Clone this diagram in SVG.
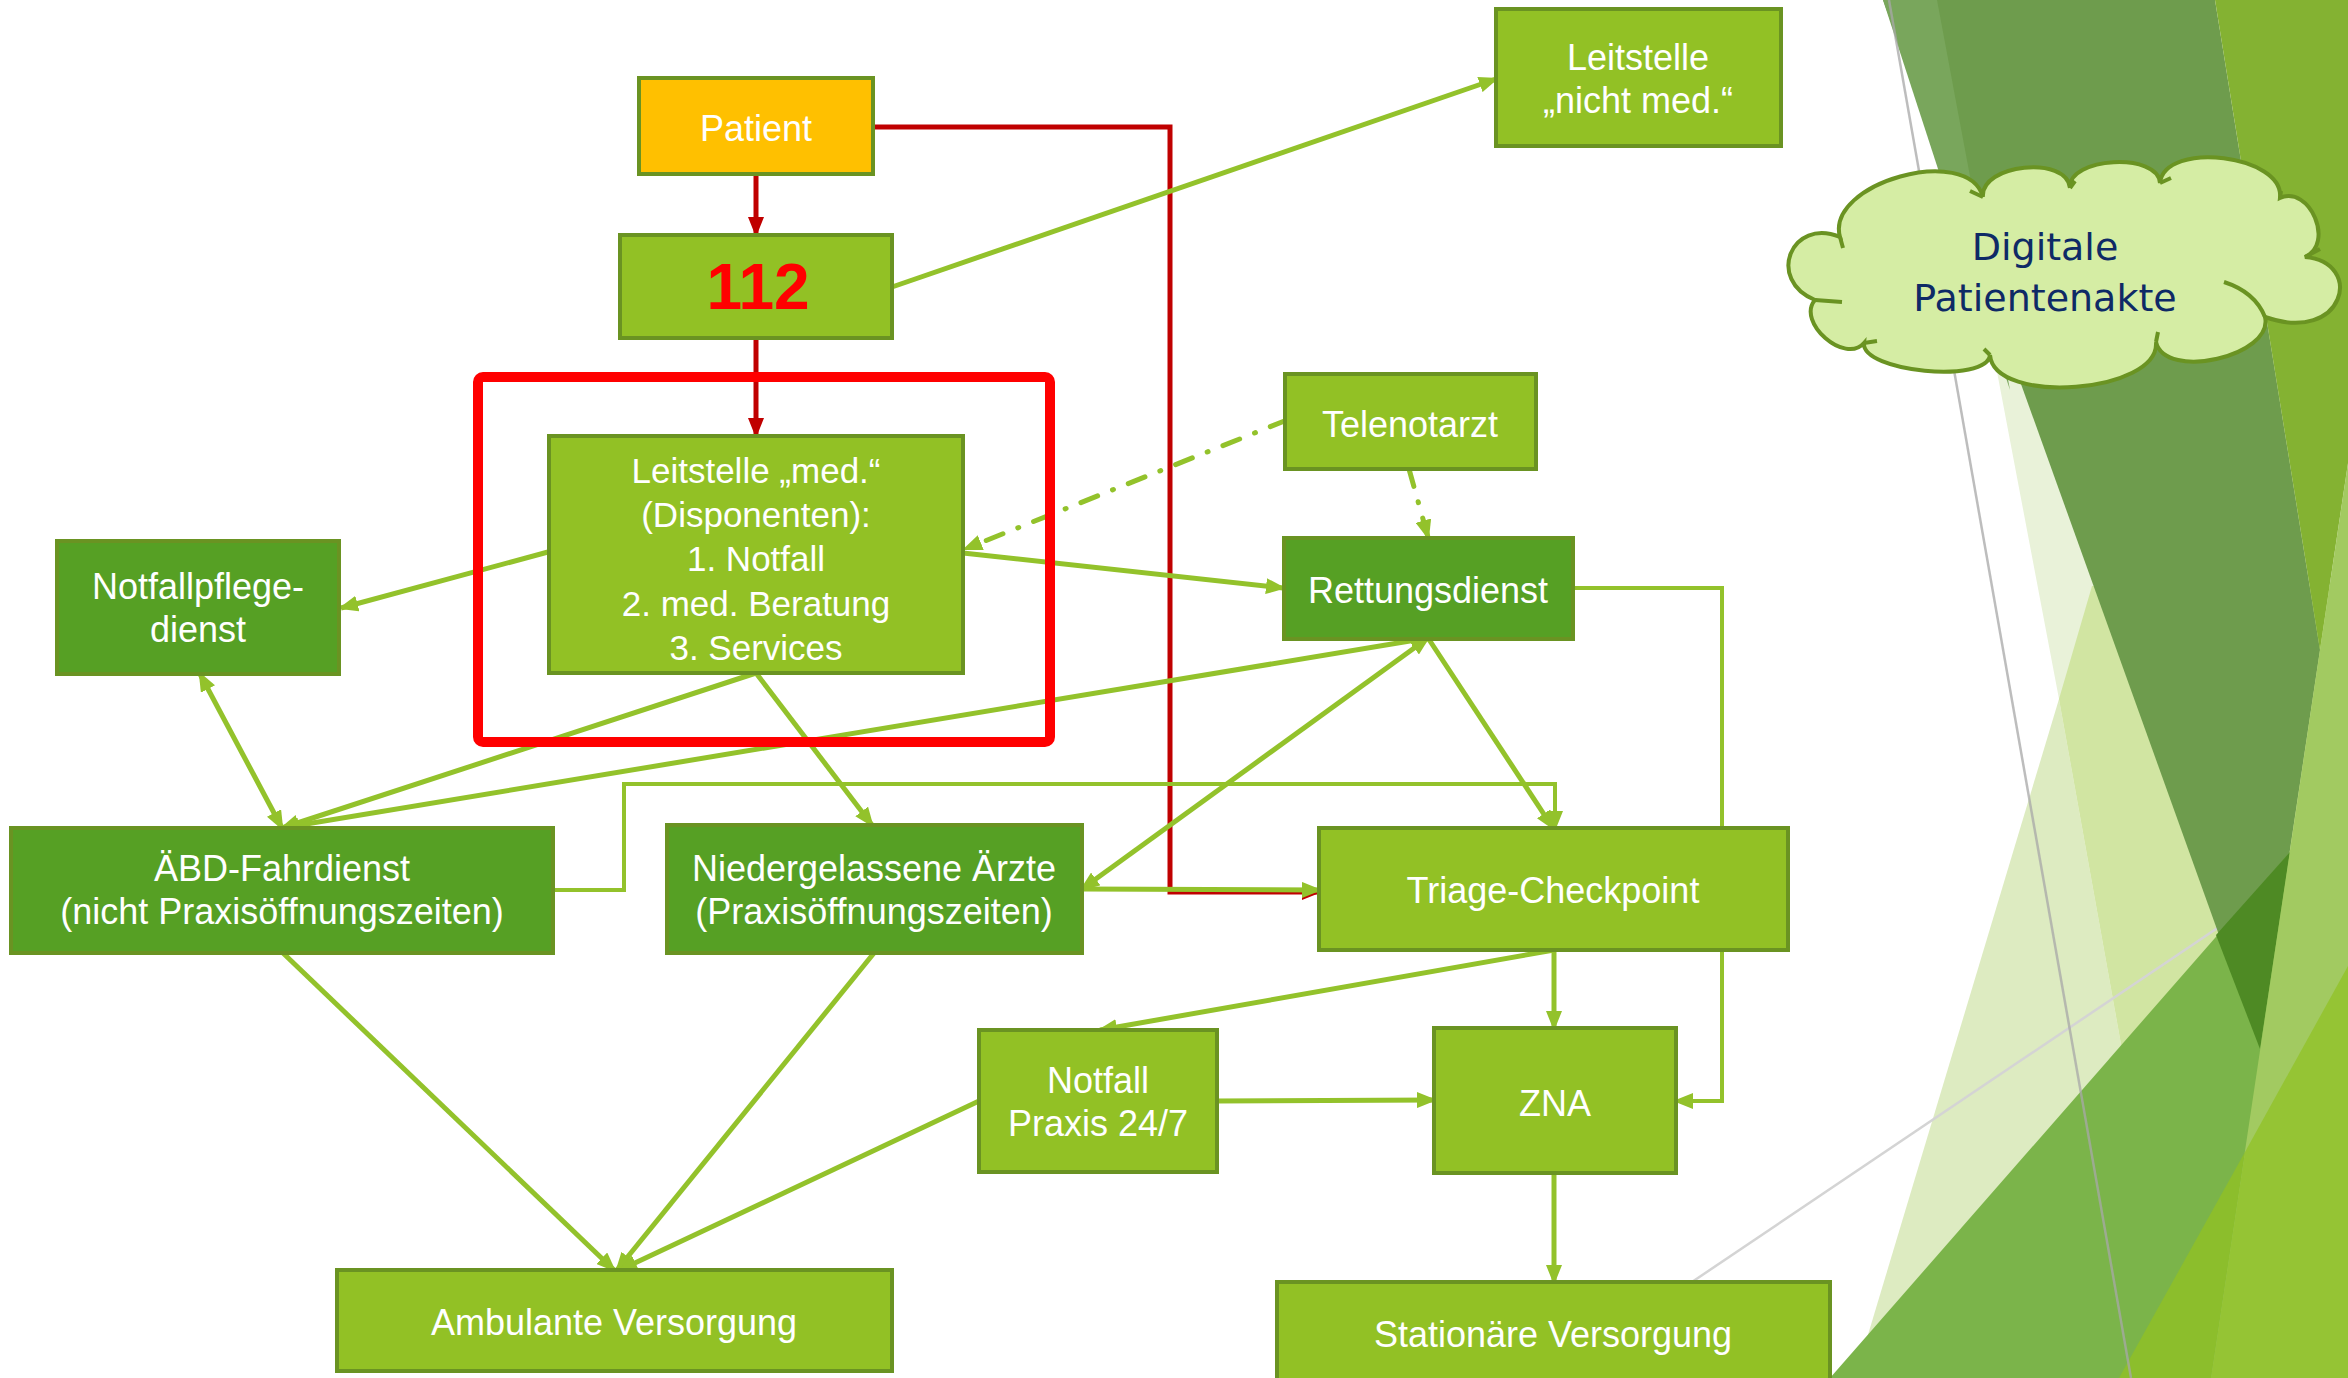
<svg xmlns="http://www.w3.org/2000/svg" width="2348" height="1378" viewBox="0 0 2348 1378">
<defs>
<style>
.nb{stroke:#6A9322;stroke-width:4}
.lg{fill:#92C125}
.dg{fill:#56A024}
.yl{fill:#FFC000}
.t{font-family:"Liberation Sans",Arial,sans-serif;font-size:36px;fill:#FFFFFF;text-anchor:middle}
.c{fill:none;stroke:#93C22B;stroke-width:5}
.c4{fill:none;stroke:#93C22B;stroke-width:4}
.dd{fill:none;stroke:#93C22B;stroke-width:5;stroke-dasharray:18 16 1 16;stroke-linecap:round}
.cr{fill:none;stroke:#C00000;stroke-width:5}
</style>
<marker id="ag" viewBox="0 0 20 16" refX="17" refY="8" markerWidth="20" markerHeight="16" markerUnits="userSpaceOnUse" orient="auto-start-reverse">
<path d="M0,0 L20,8 L0,16 z" fill="#93C22B"/>
</marker>
<marker id="ar" viewBox="0 0 20 16" refX="17" refY="8" markerWidth="20" markerHeight="16" markerUnits="userSpaceOnUse" orient="auto">
<path d="M0,0 L20,8 L0,16 z" fill="#C00000"/>
</marker>
</defs>
<rect x="0" y="0" width="2348" height="1378" fill="#FFFFFF"/>
<g id="background">
<polygon points="1955,150 2059,699 2181,1378 2348,1378 2348,150" fill="#E9F2D9"/>
<polygon points="2059,699 1855,1378 2181,1378" fill="#DDEBC1"/>
<polygon points="2092,586 2059,699 2181,1378 2348,1378 2348,586" fill="#D1E5A2"/>
<line x1="1689" y1="1284" x2="2348" y2="840" stroke="#D4D4D4" stroke-width="2.5"/>
<polygon points="1883,0 2215,0 2320,650 2260,1049" fill="#6E9C4D"/>
<polygon points="1883,0 1937,0 2010,390" fill="#79A65C"/>
<polygon points="2215,0 2348,0 2348,463 2320,650" fill="#84B232"/>
<polygon points="1830,1378 2348,786 2348,1378" fill="#7BB44A"/>
<polygon points="2216,935 2290,852 2260,1049" fill="#4E8A24"/>
<polygon points="2348,463 2211,1378 2348,1378" fill="#A2CA61"/>
<polygon points="2119,1378 2245,1152 2211,1378" fill="#8CBE2C"/>
<polygon points="2245,1152 2348,966 2348,1378 2211,1378" fill="#95C434"/>
<line x1="1889" y1="0" x2="2131" y2="1378" stroke="#A8A8A8" stroke-width="2.5" opacity="0.75"/>
</g>
<g id="connectors">
<path class="cr" d="M873,127 L1170,127 L1170,892 L1319,892" marker-end="url(#ar)"/>
<path class="c" d="M892,287 L1496,79" marker-end="url(#ag)"/>
<path class="c" d="M548,552 L341,608" marker-end="url(#ag)"/>
<path class="c" d="M963,553 L1283,588" marker-end="url(#ag)"/>
<path class="dd" d="M1287,420 L965,549" marker-end="url(#ag)"/>
<path class="dd" d="M1409,469 L1428,537" marker-end="url(#ag)"/>
<path class="c" d="M756,673 L282,828" marker-end="url(#ag)"/>
<path class="c" d="M756,673 L872,825" marker-end="url(#ag)"/>
<path class="c" d="M282,828 L1428,638" marker-start="url(#ag)" marker-end="url(#ag)"/>
<path class="c" d="M1082,889 L1428,638" marker-start="url(#ag)" marker-end="url(#ag)"/>
<path class="c" d="M1428,638 L1553,828" marker-end="url(#ag)"/>
<path class="c" d="M200,674 L282,828" marker-start="url(#ag)" marker-end="url(#ag)"/>
<path class="c4" d="M553,890 L624,890 L624,784 L1555,784 L1555,828" marker-end="url(#ag)"/>
<path class="c" d="M1082,889 L1319,890" marker-end="url(#ag)"/>
<path class="c4" d="M1573,588 L1722,588 L1722,1101 L1676,1101" marker-end="url(#ag)"/>
<path class="c" d="M1554,950 L1554,1028" marker-end="url(#ag)"/>
<path class="c" d="M1554,950 L1100,1030" marker-end="url(#ag)"/>
<path class="c" d="M1217,1101 L1434,1100" marker-end="url(#ag)"/>
<path class="c" d="M1554,1173 L1554,1282" marker-end="url(#ag)"/>
<path class="c" d="M283,953 L614,1270" marker-end="url(#ag)"/>
<path class="c" d="M874,953 L617,1270" marker-end="url(#ag)"/>
<path class="c" d="M979,1101 L620,1270" marker-end="url(#ag)"/>
<path class="cr" d="M756,174 L756,234" marker-end="url(#ar)"/>
<path class="cr" d="M756,338 L756,435" marker-end="url(#ar)"/>
</g>
<g id="frame-leitstelle">
<rect x="478" y="377" width="572" height="365" rx="5" fill="none" stroke="#FF0000" stroke-width="10"/>
</g>
<g id="node-patient">
<rect class="nb yl" x="639" y="78" width="234" height="96"/>
<text class="t" x="756" y="141">Patient</text>
</g>
<g id="node-112">
<rect class="nb lg" x="620" y="235" width="272" height="103"/>
<text x="758" y="309" font-family="'Liberation Sans',Arial,sans-serif" font-size="64" font-weight="bold" fill="#FF0000" text-anchor="middle">112</text>
</g>
<g id="node-leitstelle-nicht-med">
<rect class="nb lg" x="1496" y="9" width="285" height="137"/>
<text class="t" x="1638" y="70">Leitstelle</text>
<text class="t" x="1638" y="113">„nicht med.“</text>
</g>
<g id="node-leitstelle-med">
<rect class="nb lg" x="549" y="436" width="414" height="237"/>
<text class="t" style="font-size:35px" x="756" y="483">Leitstelle „med.“</text>
<text class="t" style="font-size:35px" x="756" y="527">(Disponenten):</text>
<text class="t" style="font-size:35px" x="756" y="571">1. Notfall</text>
<text class="t" style="font-size:35px" x="756" y="616">2. med. Beratung</text>
<text class="t" style="font-size:35px" x="756" y="660">3. Services</text>
</g>
<g id="node-notfallpflegedienst">
<rect class="nb dg" x="57" y="541" width="282" height="133"/>
<text class="t" x="198" y="599">Notfallpflege-</text>
<text class="t" x="198" y="642">dienst</text>
</g>
<g id="node-telenotarzt">
<rect class="nb lg" x="1285" y="374" width="251" height="95"/>
<text class="t" x="1410" y="437">Telenotarzt</text>
</g>
<g id="node-rettungsdienst">
<rect class="nb dg" x="1284" y="538" width="289" height="101"/>
<text class="t" x="1428" y="603">Rettungsdienst</text>
</g>
<g id="node-abd">
<rect class="nb dg" x="11" y="828" width="542" height="125"/>
<text class="t" x="282" y="881">ÄBD-Fahrdienst</text>
<text class="t" x="282" y="924">(nicht Praxisöffnungszeiten)</text>
</g>
<g id="node-niedergelassene">
<rect class="nb dg" x="667" y="825" width="415" height="128"/>
<text class="t" x="874" y="881">Niedergelassene Ärzte</text>
<text class="t" x="874" y="924">(Praxisöffnungszeiten)</text>
</g>
<g id="node-triage">
<rect class="nb lg" x="1319" y="828" width="469" height="122"/>
<text class="t" x="1553" y="903">Triage-Checkpoint</text>
</g>
<g id="node-notfallpraxis">
<rect class="nb lg" x="979" y="1030" width="238" height="142"/>
<text class="t" x="1098" y="1093">Notfall</text>
<text class="t" x="1098" y="1136">Praxis 24/7</text>
</g>
<g id="node-zna">
<rect class="nb lg" x="1434" y="1028" width="242" height="145"/>
<text class="t" x="1555" y="1116">ZNA</text>
</g>
<g id="node-ambulant">
<rect class="nb lg" x="337" y="1270" width="555" height="101"/>
<text class="t" x="614" y="1335">Ambulante Versorgung</text>
</g>
<g id="node-stationaer">
<rect class="nb lg" x="1277" y="1282" width="553" height="110"/>
<text class="t" x="1553" y="1347">Stationäre Versorgung</text>
</g>
<g id="node-cloud">
<path d="M1840,237 C1825,183 1968,143 1983,197 C1980,164 2067,155 2070,188 C2068,157 2158,152 2160,183 C2165,140 2285,155 2280,198 C2310,185 2335,244 2305,257 C2365,262 2345,345 2265,317 C2274,356 2165,381 2156,342 C2160,393 1994,406 1990,355 C1987,384 1861,372 1864,343 C1845,365 1796,322 1815,300 C1766,280 1791,217 1840,237 Z" fill="#D5EDA4" stroke="#6A9322" stroke-width="4"/>
<path d="M1840,237 L1843,248 M1983,197 L1970,191 M2070,188 L2075,181 M2160,183 L2171,178 M2280,198 L2281,191 M2305,257 L2320,249 M2224,282 Q2255,292 2265,317 M2156,342 L2158,332 M1990,355 L1984,349 M1864,343 L1877,341 M1815,300 L1842,302" fill="none" stroke="#6A9322" stroke-width="4"/>
<text x="2045" y="260" font-family="'DejaVu Sans',Verdana,sans-serif" font-size="38" fill="#0E2A66" text-anchor="middle">Digitale</text>
<text x="2045" y="311" font-family="'DejaVu Sans',Verdana,sans-serif" font-size="38" fill="#0E2A66" text-anchor="middle">Patientenakte</text>
</g>
</svg>
